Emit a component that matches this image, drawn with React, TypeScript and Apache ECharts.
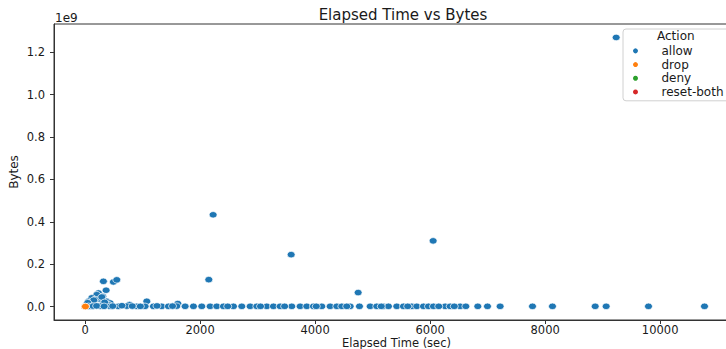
import React, { useEffect, useRef } from "react";
import * as echarts from "echarts";

// Elapsed time (sec) and bytes (in units of 1e9) for "allow"
const allowTime: number[] = [
  9235, 2226, 3583, 6052, 2151, 4748, 318, 492, 551, 365, 1073, 1612, 771,
  232, 203, 307, 116, 261, 174, 377, 58, 435, 87, 319, 405, 150, 290, 340, 30, 20, 45,
  116, 261, 435, 580, 725, 899, 1043, 1188, 1333, 1449, 1594, 1739, 1884, 2029, 2174,
  2290, 2406, 2580, 2725, 2870, 2986, 3160, 3275, 3391, 3594, 3739, 3855, 3971, 4116,
  4261, 4377, 4464, 4609, 4771, 4957, 5072, 5188, 5275, 5420, 5536, 5681, 5768, 5884,
  5971, 6058, 6261, 6348, 6522, 6621, 6829, 6997, 7217, 7780, 8127, 8870, 9061, 9797,
  10771, 60, 140, 200, 330, 480, 640, 820, 960, 1250, 1520, 2480, 3050, 3470, 4020, 4550,
  5150, 5610, 6150, 6420,
];
const allowBytes: number[] = [
  1.27, 0.433, 0.245, 0.31, 0.127, 0.066, 0.119, 0.116, 0.126, 0.077, 0.025, 0.014, 0.009,
  0.064, 0.056, 0.048, 0.041, 0.033, 0.033, 0.025, 0.025, 0.017, 0.017, 0.017, 0.009, 0.03,
  0.045, 0.02, 0.012, 0.006, 0.018,
  0.001, 0.002, 0.001, 0.001, 0.002, 0.001, 0.001, 0.001, 0.001, 0.001, 0.002, 0.001,
  0.001, 0.001, 0.001, 0.001, 0.001, 0.001, 0.001, 0.001, 0.001, 0.001, 0.001, 0.001,
  0.001, 0.001, 0.001, 0.001, 0.001, 0.001, 0.001, 0.001, 0.001, 0.001, 0.001, 0.001,
  0.001, 0.001, 0.001, 0.001, 0.001, 0.001, 0.001, 0.001, 0.001, 0.001, 0.001, 0.001,
  0.001, 0.001, 0.001, 0.001, 0.001, 0.001, 0.001, 0.001, 0.001, 0.001, 0.001, 0.002,
  0.003, 0.001, 0.002, 0.004, 0.002, 0.001, 0.003, 0.002, 0.001, 0.001, 0.001, 0.001,
  0.001, 0.001, 0.001, 0.001, 0.001,
];
const dropTime: number[] = [0, 5];
const dropBytes: number[] = [0.0004, 0.0001];
const denyTime: number[] = [0];
const denyBytes: number[] = [0.0002];
const resetTime: number[] = [0];
const resetBytes: number[] = [0.0001];

const actions = ["allow", "drop", "deny", "reset-both"];
const xTicks = [0, 2000, 4000, 6000, 8000, 10000];
const yTicks = [0, 0.2, 0.4, 0.6, 0.8, 1.0, 1.2];

const zip = (a: number[], b: number[]) => a.map((v, i) => [v, b[i]]);

const FONT = "DejaVu Sans";
const TXT = "#1a1a1a";

export default function App() {
  const ref = useRef<HTMLDivElement>(null);
  useEffect(() => {
    if (!ref.current) return;
    const chart = echarts.init(ref.current, null, { renderer: "svg" });
    const mk = (name: string, color: string, data: number[][], z: number) => ({
      name,
      type: "scatter",
      data,
      z,
      symbol: "circle",
      symbolSize: [8, 6.5],
      itemStyle: { color, borderColor: "#ffffff", borderWidth: 0.7, opacity: 1 },
      emphasis: { disabled: true },
    });
    chart.setOption({
      animation: false,
      textStyle: { fontFamily: FONT },
      title: {
        text: "Elapsed Time vs Bytes",
        left: 398,
        textAlign: "center",
        top: 2,
        textStyle: { fontFamily: FONT, fontSize: 15, fontWeight: "normal", color: TXT },
      },
      grid: {
        left: 54,
        top: 24,
        width: 685,
        height: 296,
        outerBoundsMode: "none",
        containLabel: false,
        show: true,
        borderColor: "#333",
        borderWidth: 1,
        backgroundColor: "transparent",
      },
      xAxis: {
        type: "value",
        min: -541,
        max: 11371,
        name: "Elapsed Time (sec)",
        nameLocation: "middle",
        nameGap: 18,
        nameMoveOverlap: false,
        nameTextStyle: { fontFamily: FONT, fontSize: 11.5, lineHeight: 10, color: TXT, verticalAlign: "top" },
        axisLine: { show: true, onZero: false, lineStyle: { color: "#333", width: 1 } },
        axisTick: { show: true, length: 4, customValues: xTicks, lineStyle: { color: "#333" } },
        axisLabel: {
          customValues: xTicks,
          margin: 5,
          fontFamily: FONT,
          fontSize: 11.5,
          lineHeight: 10,
          color: TXT,
          formatter: (v: number) => String(v),
        },
        splitLine: { show: false },
      },
      yAxis: {
        type: "value",
        min: -0.0635,
        max: 1.3335,
        name: "Bytes",
        nameLocation: "middle",
        nameGap: 34,
        nameMoveOverlap: false,
        nameTextStyle: { fontFamily: FONT, fontSize: 12, color: TXT },
        axisLine: { show: true, onZero: false, lineStyle: { color: "#333", width: 1 } },
        axisTick: { show: true, length: 4, customValues: yTicks, lineStyle: { color: "#333" } },
        axisLabel: {
          customValues: yTicks,
          margin: 9,
          fontFamily: FONT,
          fontSize: 11.5,
          color: TXT,
          formatter: (v: number) => v.toFixed(1),
        },
        splitLine: { show: false },
      },
      legend: {
        data: actions,
        orient: "vertical",
        left: 623,
        top: 29,
        padding: [15, 10, 2, 8],
        itemWidth: 16,
        itemHeight: 7,
        itemGap: 0,
        icon: "circle",
        backgroundColor: "#ffffff",
        borderColor: "#d0d0d0",
        borderWidth: 1,
        borderRadius: 3,
        selectedMode: false,
        z: 10,
        textStyle: { fontFamily: FONT, fontSize: 12, color: TXT, lineHeight: 13.7, padding: [0, 0, 0, 13] },
      },
      graphic: [
        { type: "text", left: 55, top: 12, z: 20, style: { text: "1e9", font: `12px '${FONT}'`, fill: TXT } },
        { type: "text", left: 657, top: 30, z: 20, style: { text: "Action", font: `12px '${FONT}'`, fill: TXT } },
      ],
      series: [
        mk("deny", "#2ca02c", zip(denyTime, denyBytes), 2),
        mk("reset-both", "#d62728", zip(resetTime, resetBytes), 2),
        mk("allow", "#1f77b4", zip(allowTime, allowBytes), 3),
        mk("drop", "#ff7f0e", zip(dropTime, dropBytes), 4),
      ],
    });
    return () => chart.dispose();
  }, []);
  return (
    <div
      ref={ref}
      style={{ position: "fixed", left: 0, top: 0, width: 726, height: 349, background: "#fff" }}
    />
  );
}
